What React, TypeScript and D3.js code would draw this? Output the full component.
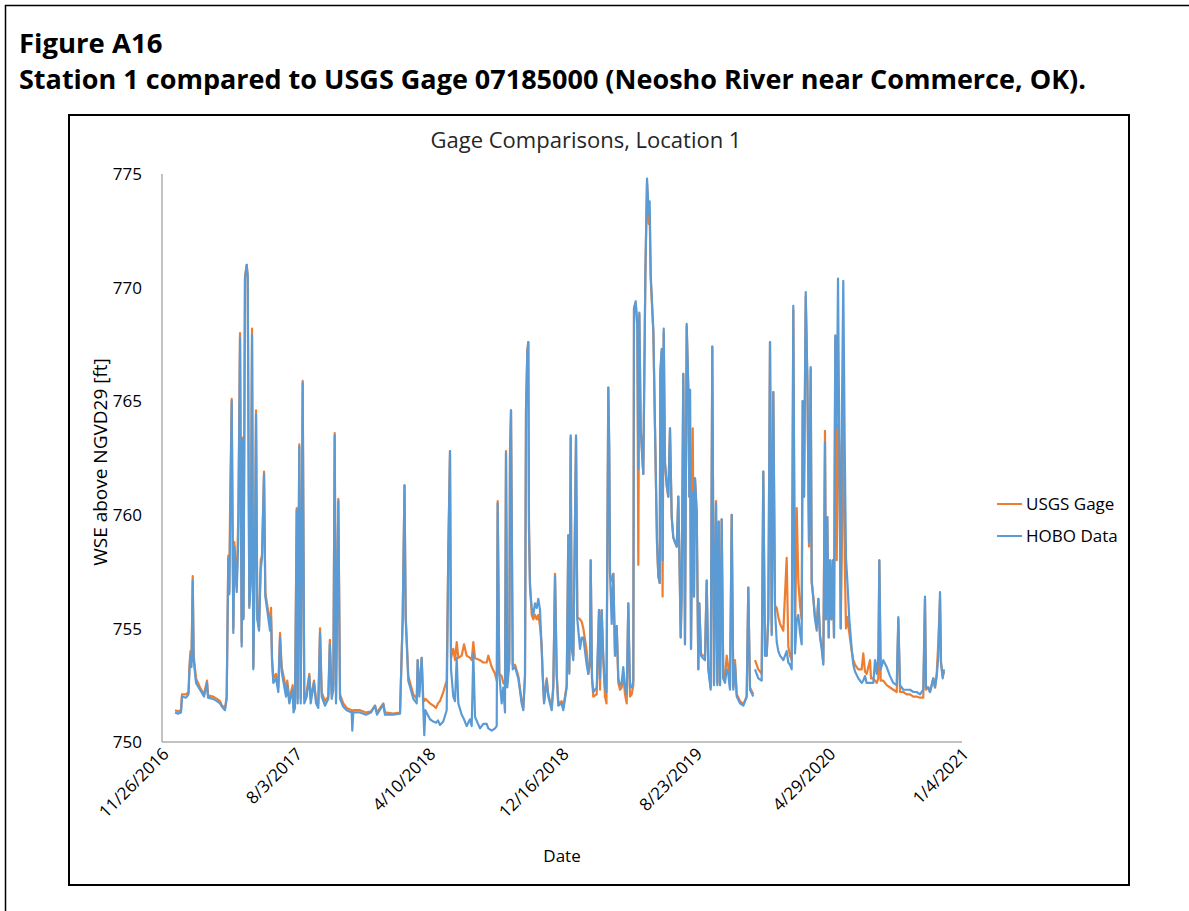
import React from 'react';
import * as d3 from 'd3';

// ---------- data ----------
const START = new Date(2016, 10, 26);
const AXIS_SPAN_DAYS = 1500;
const TICK_STEP_DAYS = 250;
const Y_MIN = 750;
const Y_MAX = 775;
const Y_STEP = 5;
const SERIES_NAMES = ['USGS Gage', 'HOBO Data'];
const SERIES_COLORS = ['#ED7D31', '#5B9BD5'];
const FIGURE_LABEL = 'Figure A16';
const FIGURE_CAPTION = 'Station 1 compared to USGS Gage 07185000 (Neosho River near Commerce, OK).';
const CHART_TITLE = 'Gage Comparisons, Location 1';
const Y_TITLE = 'WSE above NGVD29 [ft]';
const X_TITLE = 'Date';

// [days since 11/26/2016, USGS Gage (ft), HOBO Data (ft)]
type Row = [number, number | null, number | null];

const readings2017: Row[] = [
  [24.4, 751.4, 751.3], [30, 751.35, 751.25], [35.6, 751.4, 751.3], [37.5, 752.1, 752.0],
  [45, 752.1, 751.95], [49.7, 752.2, 752.1], [51.6, 753.4, 753.2], [53.4, 754.0, 753.8],
  [55.3, 753.6, 753.3], [57.6, 757.3, 757.1], [59.4, 753.8, 753.6], [63.8, 752.8, 752.6],
  [71.3, 752.4, 752.3], [78.8, 752.1, 752.0], [84.4, 752.7, 752.6], [86.3, 752.05, 751.95],
  [95.6, 752.0, 751.9], [103.1, 751.9, 751.8], [108.8, 751.8, 751.7], [112.5, 751.6, 751.55],
  [118.1, 751.5, 751.4], [121.3, 752.0, 751.9], [124.3, 758.2, 758.1], [126.2, 756.6, 756.5],
  [127.5, 760.0, 759.0], [130.7, 765.1, 765.0], [133.7, 755.0, 754.8], [135.6, 758.8, 758.6],
  [140.1, 756.8, 756.6], [143.1, 760.0, 759.0], [146.3, 768.0, 767.8], [149.4, 754.4, 754.2],
  [151.3, 763.4, 763.3], [152.8, 755.5, 755.4], [155.6, 770.5, 770.4], [158.8, 771.0, 771.0],
  [160.7, 770.5, 770.5], [163.7, 756.0, 755.9], [166.3, 757.2, 757.1], [168.8, 768.2, 767.9],
  [171.2, 753.3, 753.2], [174.4, 758.9, 758.8], [176.3, 764.6, 764.4], [178.7, 755.5, 755.4],
  [181.9, 755.0, 754.9], [185.1, 758.0, 757.6], [187.5, 758.2, 758.1], [191.3, 761.9, 761.8],
  [193.7, 756.6, 756.4], [197.4, 756.0, 755.8], [202.5, 755.2, 754.9], [204.4, 755.9, 755.5],
  [206.3, 753.7, 753.6], [208.7, 752.8, 752.6], [213.8, 753.0, 752.8], [218.1, 752.4, 752.2],
  [221.3, 754.8, 754.6], [224.4, 753.3, 753.1], [228.8, 752.8, 752.5], [232.5, 752.3, 752.0],
  [234.9, 752.7, 752.5], [238.7, 751.9, 751.7], [245.1, 752.5, 752.3], [246.6, 751.5, 751.3],
  [249.4, 751.7, 751.5], [252.6, 760.3, 760.2], [254.4, 751.9, 751.7], [257.4, 763.1, 763.0],
  [260.1, 751.9, 751.7], [263.8, 765.9, 765.8], [266.8, 751.9, 751.7], [271.3, 752.2, 752.0],
  [276.2, 753.0, 752.9], [278.8, 751.9, 751.7], [285, 752.7, 752.6], [288.8, 751.9, 751.7],
  [293.1, 751.7, 751.5], [296.3, 755.0, 754.8], [299.4, 752.2, 752.0], [305.6, 751.8, 751.6],
  [311.8, 752.0, 751.9], [314.7, 754.5, 754.3], [318.2, 752.1, 751.9], [321.2, 752.5, 752.3],
  [323.8, 763.6, 763.5], [326.3, 751.9, 751.7], [330.6, 760.7, 760.6], [333.8, 752.1, 751.9],
  [339.9, 751.7, 751.55], [346.3, 751.5, 751.4], [355.7, 751.4, 751.3], [356.8, 751.3, 750.5],
  [358.7, 751.4, 751.3], [371.3, 751.4, 751.3], [382.5, 751.3, 751.2], [391.9, 751.35, 751.3],
  [399.4, 751.6, 751.6],
];

const readings2018: Row[] = [
  [403.1, 751.3, 751.2], [415, 751.7, 751.65], [418.1, 751.3, 751.2], [433.1, 751.25, 751.2],
  [446.3, 751.3, 751.25], [451.3, 755.5, 755.4], [454.7, 761.3, 761.3], [456.9, 755.6, 755.4],
  [461.8, 752.9, 752.7], [471.2, 752.1, 751.9], [477.6, 751.9, 751.7], [479.4, 753.6, 753.6],
  [482.4, 752.2, 752.0], [486.9, 753.7, 753.7], [489.9, 751.9, 751.5], [491.8, 751.8, 750.3],
  [493.7, 751.9, 751.4], [502.5, 751.7, 751.0], [508.7, 751.6, 750.9], [513.8, 751.5, 750.85],
  [517.5, 751.7, 750.95], [521.3, 751.8, 750.75], [527.4, 752.2, 750.9], [533.8, 752.7, 751.4],
  [536.8, 758.4, 758.3], [540, 762.8, 762.8], [541.9, 753.7, 753.2], [546.2, 754.1, 752.0],
  [549.4, 753.6, 751.8], [552.6, 754.4, 753.7], [555.6, 753.7, 751.7], [561.9, 753.8, 751.2],
  [566.3, 754.3, 751.0], [571.3, 753.8, 750.7], [577.5, 753.7, 751.0], [580.7, 753.6, 750.7],
  [583.7, 754.4, 753.9], [586.9, 753.7, 751.1], [596.3, 753.6, 750.6], [602.4, 753.5, 750.8],
  [608.8, 753.5, 750.8], [611.8, 753.8, 750.6], [618.2, 753.3, 750.5], [624.4, 753.0, 750.6],
  [627.6, 752.7, 750.7], [629.4, 760.6, 760.5], [632.4, 753.0, 753.0], [636.9, 752.9, 751.7],
  [639.9, 752.6, 752.4], [643.1, 752.5, 751.3], [645, 762.8, 762.7], [647.4, 752.6, 752.4],
  [651.2, 753.6, 753.5], [652.5, 762.8, 762.5], [654.4, 764.6, 764.6], [657.6, 753.4, 753.2],
  [661.9, 753.4, 753.3], [668.1, 752.9, 752.8], [674.4, 751.8, 751.7], [677.4, 751.5, 751.4],
  [680.6, 752.9, 752.9], [682.5, 764.6, 764.6], [685, 767.2, 767.2], [686.8, 767.6, 767.6],
  [688.1, 759.6, 759.3], [690, 757.0, 756.8], [693.2, 755.6, 755.9], [696.2, 755.4, 755.6],
  [699.4, 755.6, 756.1], [702.6, 755.4, 755.9], [705.6, 755.6, 756.3], [708.8, 755.1, 755.8],
  [711.9, 754.2, 754.1], [713.8, 753.0, 752.9], [716.3, 751.8, 751.7], [721.3, 752.8, 752.7],
  [724.3, 752.1, 752.0], [727.5, 751.8, 751.7], [730.7, 751.5, 751.4], [733.7, 752.5, 752.4],
  [736.9, 757.4, 757.3], [740.1, 753.0, 752.9], [743.1, 751.7, 751.6], [749.4, 751.8, 751.7],
  [752.4, 751.5, 751.4], [758.8, 752.5, 752.4], [761.8, 759.1, 759.1], [763.7, 753.1, 753.0],
];

const readings2019: Row[] = [
  [766.3, 763.4, 763.5], [768.2, 754.3, 754.1], [771.2, 753.8, 753.6], [776.3, 763.4, 763.5],
  [778.7, 755.5, 755.4], [783.8, 755.4, 754.1], [786.9, 755.3, 754.6], [790, 755.0, 754.6],
  [796.3, 754.0, 753.4], [799.3, 753.0, 753.0], [802.5, 753.4, 753.7], [803.8, 758.0, 758.0],
  [806.3, 752.8, 752.8], [808.7, 752.0, 752.2], [815.1, 752.1, 752.4], [819.4, 755.8, 755.8],
  [821.3, 752.3, 752.8], [824.4, 755.8, 755.8], [827.4, 753.6, 753.8], [830.6, 752.0, 752.4],
  [833.4, 751.7, 752.2], [836.8, 765.6, 765.6], [838.7, 762.2, 763.0], [840, 757.4, 757.5],
  [843.2, 757.1, 755.2], [846.2, 757.4, 757.4], [849.4, 753.8, 753.8], [852.6, 755.1, 755.1],
  [855.6, 752.6, 752.8], [858.8, 752.3, 752.5], [861.9, 752.4, 752.6], [864.9, 753.0, 753.3],
  [868.1, 752.1, 752.4], [871.3, 751.7, 752.1], [874.3, 756.1, 756.1], [877.5, 752.0, 752.4],
  [880.7, 752.1, 752.4], [883.7, 752.5, 752.7], [885, 769.1, 769.1], [888.2, 769.3, 769.4],
  [891.2, 768.3, 768.4], [893.1, 757.8, 762.0], [895, 768.8, 768.9], [897.6, 763.8, 763.8],
  [900.6, 762.5, 762.5], [902.4, 761.8, 761.8], [906.3, 770.5, 770.6], [909.4, 774.6, 774.8],
  [912.6, 772.8, 773.2], [914.4, 773.2, 773.8], [916.3, 770.4, 770.6], [921.3, 768.0, 768.1],
  [924.4, 763.8, 763.8], [928.1, 758.8, 758.8], [930.6, 757.3, 757.3], [933.2, 757.0, 757.0],
  [934.4, 766.2, 766.3], [936.9, 767.2, 767.3], [938.6, 756.4, 758.0], [940.7, 768.0, 768.2],
  [943.1, 762.3, 762.3], [946.3, 761.3, 761.3], [949.3, 760.8, 760.8], [952.5, 763.8, 763.8],
  [955.7, 759.9, 759.9], [958.7, 759.0, 759.0], [965.1, 758.6, 758.6], [968.1, 760.8, 760.8],
  [970, 758.4, 758.4], [972.6, 754.6, 754.6], [974.4, 756.5, 756.5], [977.4, 766.2, 766.2],
  [980.6, 754.3, 754.3], [983.8, 768.3, 768.4], [986.8, 765.6, 765.6], [988.7, 760.8, 760.8],
  [990, 765.5, 765.5], [991.9, 754.1, 754.1], [995.1, 763.8, 761.0], [997.5, 756.4, 756.4],
  [999.4, 761.6, 761.6], [1002.6, 760.1, 760.1], [1005.6, 753.2, 753.2], [1007.4, 756.1, 756.1],
  [1010.6, 753.9, 753.8], [1013.8, 753.8, 753.7], [1018.1, 753.8, 753.6], [1021.3, 757.1, 757.1],
  [1024.3, 753.3, 753.2], [1028.8, 752.4, 752.3], [1031.8, 767.4, 767.4], [1035, 752.6, 752.5],
  [1038.8, 760.6, 760.5], [1041.2, 752.6, 752.5], [1043.8, 759.7, 759.7], [1046.3, 752.5, 752.5],
  [1049.4, 759.8, 759.8], [1052.4, 752.8, 752.8], [1055.6, 752.8, 752.6], [1058.8, 753.8, 753.2],
  [1061.8, 753.3, 753.0], [1065, 752.4, 752.3], [1068.2, 760.0, 760.0], [1071.2, 752.4, 752.3],
  [1074.4, 753.6, 753.4], [1077.6, 752.1, 752.0], [1083.8, 751.8, 751.7], [1090, 751.65, 751.6],
  [1096.3, 752.0, 752.0], [1099.3, 756.8, 756.8], [1102.5, 752.4, 752.3], [1108.7, 752.1, 752.0],
  [1110.3, null, null], [1111.9, 753.6, 753.2], [1118.1, 753.2, 752.8], [1124.4, 753.0, 752.7],
  [1127.4, 761.9, 761.9],
];

const readings2020: Row[] = [
  [1130.6, 753.8, 753.8], [1133.8, 753.8, 753.8], [1136.8, 755.5, 755.4], [1140, 767.6, 767.6],
  [1143.2, 754.8, 754.7], [1146.2, 765.4, 765.4], [1149.4, 756.0, 755.8], [1152.6, 755.9, 754.4],
  [1155.6, 755.5, 754.0], [1158.8, 755.2, 753.8], [1165, 754.9, 753.6], [1171.3, 758.1, 754.0],
  [1174.3, 754.2, 753.5], [1177.5, 753.8, 753.4], [1180.7, 753.6, 753.2], [1183.7, 769.0, 769.2],
  [1186.9, 754.3, 753.9], [1190.1, 760.3, 755.4], [1193.1, 757.1, 755.6], [1196.3, 756.0, 754.8],
  [1199.4, 755.4, 754.3], [1201.3, 765.0, 765.0], [1203.8, 760.8, 760.8], [1207, 769.6, 769.8],
  [1210.1, 765.9, 765.9], [1213.1, 758.6, 758.8], [1216.3, 766.4, 766.5], [1218.2, 757.0, 757.1],
  [1221.2, 756.4, 756.3], [1224.4, 755.5, 755.4], [1227.6, 755.2, 754.9], [1230.6, 756.3, 756.3],
  [1233.8, 754.7, 754.6], [1236.9, 754.2, 754.1], [1240, 753.5, 753.4], [1243.1, 763.7, 763.2],
  [1245, 755.4, 755.4], [1247.4, 759.9, 759.9], [1250.1, 754.6, 754.6], [1252.5, 758.0, 758.0],
  [1255, 755.4, 755.4], [1257.6, 758.0, 758.0], [1260, 754.6, 754.6], [1262.4, 767.8, 767.9],
  [1265.1, 758.0, 763.8], [1267.5, 764.0, 770.4], [1270, 763.0, 763.0], [1272.6, 755.0, 755.0],
  [1275, 759.0, 764.9], [1277.4, 766.0, 770.3], [1280.1, 758.0, 763.0], [1282.5, 755.0, 758.1],
  [1285, 755.5, 757.1], [1288.7, 754.8, 755.4], [1293.2, 754.0, 754.1], [1296.2, 753.6, 753.4],
  [1299.4, 753.4, 753.1], [1305.6, 753.2, 752.8], [1311.9, 753.2, 752.6], [1314.9, 753.9, 752.7],
  [1318.1, 753.1, 752.9], [1321.3, 753.0, 752.6], [1327.5, 753.6, 752.6], [1329.4, 752.8, 752.6],
  [1333.7, 752.8, 752.6], [1336.9, 752.7, 753.6], [1340.1, 752.6, 753.0], [1343.1, 752.8, 753.8],
  [1345, 758.0, 758.0], [1347.6, 752.7, 753.2], [1352.4, 752.7, 753.6], [1358.8, 752.5, 753.3],
  [1365, 752.4, 752.9], [1371.2, 752.3, 752.6], [1377.6, 752.2, 752.5], [1380.6, 755.4, 755.5],
  [1383.8, 752.2, 752.5], [1390, 752.2, 752.3], [1396.3, 752.1, 752.3], [1402.5, 752.1, 752.3],
  [1408.7, 752.0, 752.2], [1415.1, 752.0, 752.2], [1421.3, 751.95, 752.1], [1427.4, 751.95, 752.3],
  [1430.6, 756.3, 756.4], [1432.5, 752.3, 752.4], [1436.8, 752.4, 752.4], [1440, 752.2, 752.2],
  [1446.2, 752.8, 752.8], [1449.4, 752.4, 752.4], [1452.6, 753.0, 752.9], [1455.6, 754.4, 753.8],
  [1458.8, 756.3, 756.6], [1460.6, 753.5, 753.5], [1463.8, 752.9, 752.8], [1466.3, 753.1, 753.2],
];

// ---------- layout ----------
const W = 1189;
const H = 911;
const PLOT = { left: 162, right: 962, top: 174, bottom: 742 };
const FONT = "'Open Sans', 'Noto Sans', sans-serif";

export default function App() {
  const rows: Row[] = [...readings2017, ...readings2018, ...readings2019, ...readings2020];
  const end = d3.timeDay.offset(START, AXIS_SPAN_DAYS);
  const x = d3.scaleTime().domain([START, end]).range([PLOT.left, PLOT.right]);
  const y = d3.scaleLinear().domain([Y_MIN, Y_MAX]).range([PLOT.bottom, PLOT.top]);
  const toDate = (days: number) => new Date(START.getTime() + days * 86400000);

  const xTicks = d3.range(0, AXIS_SPAN_DAYS + 1, TICK_STEP_DAYS).map((d) => d3.timeDay.offset(START, d));
  const yTicks = d3.range(Y_MIN, Y_MAX + 0.001, Y_STEP);
  const fmt = d3.timeFormat('%-m/%-d/%Y');

  const makeLine = (idx: 1 | 2) =>
    d3
      .line<Row>()
      .defined((r) => r[idx] != null)
      .x((r) => x(toDate(r[0])))
      .y((r) => y(r[idx] as number))(rows) || '';

  const paths = [makeLine(1), makeLine(2)];

  return (
    <svg
      width={W}
      height={H}
      style={{ position: 'absolute', left: 0, top: 0, background: '#fff' }}
      fontFamily={FONT}
    >
      <rect x={0} y={0} width={W} height={H} fill="#fff" />
      {/* page frame */}
      <line x1={5} y1={5.5} x2={W} y2={5.5} stroke="#000" strokeWidth={1.5} />
      <line x1={5.5} y1={5} x2={5.5} y2={H} stroke="#000" strokeWidth={1.5} />

      <text x={19} y={53} fontSize={27.5} fontWeight={700} fill="#000">
        {FIGURE_LABEL}
      </text>
      <text x={19} y={89} fontSize={27} fontWeight={700} fill="#000">
        {FIGURE_CAPTION}
      </text>

      {/* chart frame */}
      <rect x={69} y={115} width={1060} height={770} fill="none" stroke="#000" strokeWidth={2} />

      <text x={586} y={148} fontSize={22} textAnchor="middle" fill="#262626">
        {CHART_TITLE}
      </text>

      {/* axes */}
      <line x1={PLOT.left} y1={PLOT.top} x2={PLOT.left} y2={PLOT.bottom} stroke="#868686" strokeWidth={1} />
      <line x1={PLOT.left} y1={PLOT.bottom} x2={PLOT.right} y2={PLOT.bottom} stroke="#868686" strokeWidth={1} />

      {yTicks.map((t) => (
        <text key={t} x={142} y={y(t)} dy="0.36em" fontSize={17} textAnchor="end" fill="#000">
          {t}
        </text>
      ))}

      {xTicks.map((t, i) => (
        <text
          key={i}
          transform={`translate(${x(t) + 8},${PLOT.bottom + 13}) rotate(-45)`}
          fontSize={17}
          textAnchor="end"
          fill="#000"
        >
          {fmt(t)}
        </text>
      ))}

      <text
        transform={`translate(107,${(PLOT.top + PLOT.bottom) / 2 + 4}) rotate(-90)`}
        fontSize={19}
        textAnchor="middle"
        fill="#000"
      >
        {Y_TITLE}
      </text>
      <text x={562} y={862} fontSize={17} textAnchor="middle" fill="#000">
        {X_TITLE}
      </text>

      {/* series */}
      {paths.map((p, i) => (
        <path key={i} d={p} fill="none" stroke={SERIES_COLORS[i]} strokeWidth={2.2} strokeLinejoin="round" />
      ))}

      {/* legend */}
      {SERIES_NAMES.map((name, i) => (
        <g key={name} transform={`translate(997,${504 + i * 32})`}>
          <line x1={0} y1={0} x2={25} y2={0} stroke={SERIES_COLORS[i]} strokeWidth={2} />
          <text x={29} y={0} dy="0.36em" fontSize={17} fill="#000">
            {name}
          </text>
        </g>
      ))}
    </svg>
  );
}
